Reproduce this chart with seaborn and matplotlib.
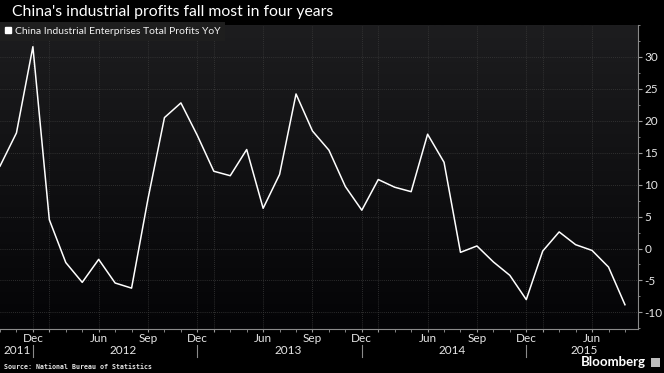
import numpy as np
import pandas as pd
import matplotlib
matplotlib.use("Agg")
import matplotlib.pyplot as plt
from matplotlib.lines import Line2D
from matplotlib.patches import Rectangle
import seaborn as sns

# data (monthly, no Jan/Feb points)
periods = ["2011-10", "2011-11", "2011-12",
           "2012-03", "2012-04", "2012-05", "2012-06", "2012-07", "2012-08", "2012-09", "2012-10", "2012-11", "2012-12",
           "2013-03", "2013-04", "2013-05", "2013-06", "2013-07", "2013-08", "2013-09", "2013-10", "2013-11", "2013-12",
           "2014-03", "2014-04", "2014-05", "2014-06", "2014-07", "2014-08", "2014-09", "2014-10", "2014-11", "2014-12",
           "2015-03", "2015-04", "2015-05", "2015-06", "2015-07", "2015-08"]
profits_yoy = [12.9, 18.1, 31.6,
               4.5, -2.2, -5.3, -1.7, -5.4, -6.2, 7.8, 20.5, 22.8, 17.7,
               12.1, 11.4, 15.5, 6.3, 11.6, 24.2, 18.4, 15.4, 9.7, 6.0,
               10.8, 9.6, 8.9, 17.9, 13.5, -0.6, 0.4, -2.1, -4.2, -8.0,
               -0.4, 2.6, 0.6, -0.3, -2.9, -8.8]
month_names = {3: "", 6: "Jun", 9: "Sep", 12: "Dec"}
y_ticks = [-10, -5, 0, 5, 10, 15, 20, 25, 30]

title = "China's industrial profits fall most in four years"
series_name = "China Industrial Enterprises Total Profits YoY"
source = "Source: National Bureau of Statistics"

df = pd.DataFrame({"period": periods, "value": profits_yoy})
df["year"] = df["period"].str[:4].astype(int)
df["month"] = df["period"].str[5:].astype(int)
df["idx"] = np.arange(len(df))

plt.rcParams["axes.unicode_minus"] = False
plt.rcParams["font.family"] = ["Lato", "DejaVu Sans"]

fig = plt.figure(figsize=(6.64, 3.73), dpi=100, facecolor="black")
ax = fig.add_axes([0, 0.118, 0.961, 0.815])
ax.set_facecolor("black")

# background gradient
grad = np.linspace(1, 0, 256).reshape(-1, 1)
ax.imshow(grad, extent=[0, 1, 0, 1], transform=ax.transAxes, aspect="auto",
          cmap=matplotlib.colors.LinearSegmentedColormap.from_list("bg", ["#040406", "#1d1d1f"]),
          zorder=0)

sns.lineplot(data=df, x="idx", y="value", color="white", linewidth=1.1, ax=ax, zorder=3)

ax.set_xlim(0.06, 38.8)
ax.set_ylim(-12.6, 35)

# x ticks
q = df[df["month"].isin(month_names.keys())]
ax.set_xticks(q["idx"])
ax.set_xticklabels([month_names[m] for m in q["month"]])
ax.set_xticks(df["idx"], minor=True)
ax.set_yticks(y_ticks)
ax.set_yticks(np.arange(-12.5, 35.1, 2.5), minor=True)
ax.yaxis.tick_right()
ax.tick_params(axis="both", which="both", colors="#9a9a9a", direction="out")
ax.tick_params(axis="x", which="major", length=2, pad=1, labelsize=8.5, labelcolor="#e6e6e6")
ax.tick_params(axis="x", which="minor", length=2)
ax.tick_params(axis="y", which="major", length=3, pad=1.5, labelsize=8.5, labelcolor="#e6e6e6")
ax.tick_params(axis="y", which="minor", length=1.5)

ax.grid(True, which="major", color="#3a3a3a", linestyle=(0, (1, 1.5)), linewidth=0.6, zorder=1)
ax.set_xlabel("")
ax.set_ylabel("")
for s in ["top", "left"]:
    ax.spines[s].set_visible(False)
for s in ["bottom", "right"]:
    ax.spines[s].set_color("#8a8a8a")
    ax.spines[s].set_linewidth(0.8)

# year labels and separators
axh = 0.815 * 373
for yr, g in df.groupby("year"):
    lo = max(g["idx"].min(), 0.06)
    center = (lo + g["idx"].max()) / 2
    ax.text(center, -22 / axh, str(yr), transform=ax.get_xaxis_transform(),
            ha="center", va="center", color="#e6e6e6", fontsize=8.5)
for i in df.loc[df["month"] == 12, "idx"]:
    ax.plot([i, i], [-16 / axh, -28 / axh], transform=ax.get_xaxis_transform(),
            color="#8a8a8a", linewidth=0.8, clip_on=False)

# legend
handle = Line2D([], [], marker="s", color="white", linestyle="none", markersize=5)
leg = ax.legend([handle], [series_name], loc="upper left", bbox_to_anchor=(0, 1.01),
                frameon=True, fancybox=False, borderaxespad=0, handlelength=0.6,
                handletextpad=0.4, borderpad=0.45, fontsize=7.5)
leg.get_frame().set_facecolor("#1e1e1e")
leg.get_frame().set_edgecolor("none")
leg.get_frame().set_alpha(1)
for t in leg.get_texts():
    t.set_color("#f0f0f0")

fig.text(12 / 664, 1 - 12 / 373, title, ha="left", va="center", color="white", fontsize=11.3)
fig.text(4 / 664, 1 - 367 / 373, source, ha="left", va="center", color="#e6e6e6",
         fontsize=4.8, family="DejaVu Sans Mono", fontweight="bold")
fig.text(646 / 664, 1 - 362 / 373, "Bloomberg", ha="right", va="center", color="white",
         fontsize=9.5, fontweight="bold")
fig.patches.append(Rectangle((651 / 664, 1 - 367 / 373), 9 / 664, 9 / 373,
                             transform=fig.transFigure, facecolor="#bdbdbd", edgecolor="none"))

fig.savefig("out.png", dpi=100, facecolor="black")
